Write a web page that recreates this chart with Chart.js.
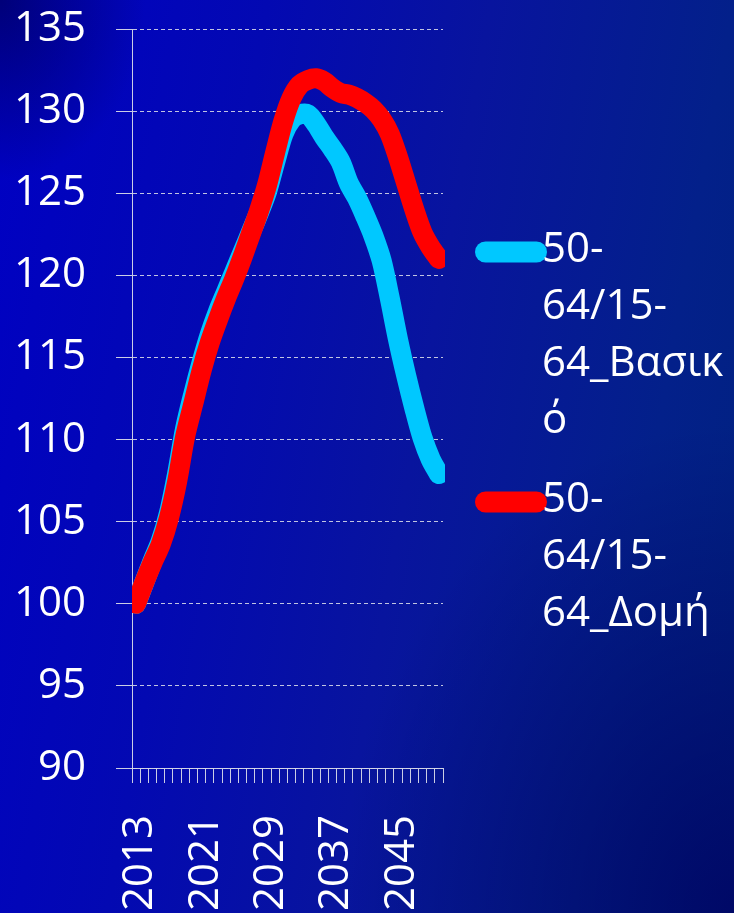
<!DOCTYPE html>
<html>
<head>
<meta charset="utf-8">
<script src="https://cdn.jsdelivr.net/npm/chart.js@4/dist/chart.umd.min.js"></script>
<style>
  html, body { margin: 0; padding: 0; width: 734px; height: 913px; overflow: hidden; }
  body {
    background:
      radial-gradient(ellipse at 0% 0%, rgba(0,0,60,0.55) 0%, rgba(0,0,60,0) 14%),
      radial-gradient(ellipse at 100% 100%, rgba(0,0,95,0.75) 0%, rgba(0,0,95,0) 38%),
      linear-gradient(100deg, #0000c4 0%, #0309b2 30%, #08149e 55%, #03208a 82%, #00227e 100%);
  }
  canvas { display: block; }
</style>
</head>
<body>
<canvas id="c" width="734" height="913"></canvas>
<script>
// ---- data ----
const years = ['2013','2014','2015','2016','2017','2018','2019','2020','2021','2022',
               '2023','2024','2025','2026','2027','2028','2029','2030','2031','2032',
               '2033','2034','2035','2036','2037','2038','2039','2040','2041','2042',
               '2043','2044','2045','2046','2047','2048','2049','2050'];
const shownYearLabels = ['2013','2021','2029','2037','2045'];

// 50-64/15-64 Βασικό (cyan)
const basicValues = [100.0, 101.3, 102.6, 103.8, 105.5, 107.9, 110.7, 112.8, 114.7, 116.4,
                     117.8, 119.0, 120.2, 121.4, 122.6, 123.8, 125.1, 126.9, 128.6, 129.5,
                     129.8, 129.8, 129.2, 128.4, 127.7, 126.9, 125.6, 124.7, 123.6, 122.4,
                     120.9, 118.6, 116.1, 113.9, 111.9, 110.1, 108.8, 107.9];
// 50-64/15-64 Δομή (red)
const structureValues = [100.0, 101.3, 102.5, 103.6, 105.2, 107.4, 110.2, 112.2, 114.2, 115.9,
                         117.3, 118.6, 119.8, 121.1, 122.5, 123.9, 125.5, 127.5, 129.4, 130.8,
                         131.6, 131.9, 132.0, 131.8, 131.4, 131.1, 131.0, 130.8, 130.5, 130.1,
                         129.5, 128.6, 127.2, 125.6, 124.0, 122.6, 121.7, 121.0];

const seriesNames = [['50-', '64/15-', '64_Βασικ', 'ό'], ['50-', '64/15-', '64_Δομή']];
const seriesColors = ['#00c8ff', '#ff0000'];
const yMin = 90, yMax = 135, yStep = 5;

// ---- styling ----
const FONT = "'Open Sans', 'Noto Sans', sans-serif";
const gridColor = 'rgba(214,216,232,0.9)';
const axisColor = 'rgba(214,216,232,0.95)';
const PAD_TOP = 29;

function makeSample(color) {
  const c = document.createElement('canvas');
  c.width = 112; c.height = 30;
  const g = c.getContext('2d');
  g.strokeStyle = color;
  g.lineWidth = 21;
  g.lineCap = 'round';
  g.beginPath();
  g.moveTo(48.5, 17);
  g.lineTo(99.5, 17);
  g.stroke();
  return c;
}

const chart = new Chart(document.getElementById('c'), {
  type: 'line',
  data: {
    labels: years,
    datasets: [
      { label: seriesNames[0].join(''), data: basicValues, borderColor: seriesColors[0],
        backgroundColor: seriesColors[0], borderWidth: 20, pointRadius: 0, tension: 0.3,
        borderCapStyle: 'round', borderJoinStyle: 'round', order: 1,
        clip: { left: 0, right: 2, top: 12, bottom: 12 } },
      { label: seriesNames[1].join(''), data: structureValues, borderColor: seriesColors[1],
        backgroundColor: seriesColors[1], borderWidth: 20, pointRadius: 0, tension: 0.3,
        borderCapStyle: 'round', borderJoinStyle: 'round', order: 0,
        clip: { left: 0, right: 2, top: 12, bottom: 12 } }
    ]
  },
  options: {
    responsive: false,
    animation: false,
    events: [],
    layout: { padding: { top: PAD_TOP, bottom: 0, left: 0, right: 0 } },
    plugins: {
      tooltip: { enabled: false },
      legend: {
        position: 'right',
        align: 'start',
        maxWidth: 300,
        title: { display: true, text: '', font: { size: 10, lineHeight: 1 },
                 padding: { top: 229 - PAD_TOP - 22 - 10, bottom: 0 } },
        labels: {
          color: '#ffffff',
          font: { family: FONT, size: 42, lineHeight: 57 / 42 },
          padding: 22,
          usePointStyle: true,
          pointStyleWidth: 56,
          generateLabels: (ch) => ch.data.datasets.map((ds, i) => ({
            text: seriesNames[i],
            fillStyle: ds.borderColor,
            strokeStyle: ds.borderColor,
            lineWidth: 0,
            pointStyle: makeSample(ds.borderColor),
            fontColor: '#ffffff',
            hidden: false,
            datasetIndex: i
          }))
        }
      }
    },
    scales: {
      x: {
        offset: true,
        grid: { display: true, drawOnChartArea: false, drawTicks: true, tickLength: 15,
                offset: true, color: gridColor, tickColor: axisColor, lineWidth: 1 },
        border: { display: true, color: axisColor, width: 1 },
        ticks: {
          autoSkip: false, minRotation: 90, maxRotation: 90, padding: 32, labelOffset: 4,
          color: '#ffffff', font: { family: FONT, size: 42 },
          callback: function (value) {
            const lab = this.getLabelForValue(value);
            return shownYearLabels.includes(lab) ? lab : '';
          }
        },
        afterFit: (s) => { s.height = 913 - 768; s.paddingLeft = 0; s.paddingRight = 0; }
      },
      y: {
        min: yMin, max: yMax,
        ticks: { stepSize: yStep, padding: 30, color: '#ffffff', font: { family: FONT, size: 42 } },
        grid: { color: gridColor, lineWidth: 1, drawTicks: true, tickLength: 16,
                tickColor: axisColor, tickBorderDash: [] },
        border: { display: true, color: axisColor, width: 1, dash: [4, 3] },
        afterFit: (s) => { s.width = 132; s.paddingTop = 0; s.paddingBottom = 0; }
      }
    }
  }
});

// pin the plot's right edge
const dr = chart.chartArea.right - 443;
if (Math.abs(dr) > 0.5) {
  chart.options.layout.padding.right += dr;
  chart.update('none');
}
</script>
</body>
</html>
